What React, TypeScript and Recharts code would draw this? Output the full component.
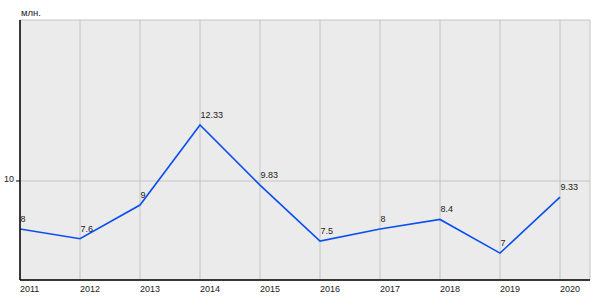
import { LineChart, Line, XAxis, YAxis, CartesianGrid, LabelList } from 'recharts';

const years = [2011, 2012, 2013, 2014, 2015, 2016, 2017, 2018, 2019, 2020];
const values = [8, 7.6, 9, 12.33, 9.83, 7.5, 8, 8.4, 7, 9.33];
const yTicks = [10];
const unitLabel = 'млн.';

const data = years.map((year, i) => ({ year, value: values[i] }));

const FONT = '"Liberation Sans", Arial, sans-serif';
const TEXT = '#222';
const FS = 9;

function YearTick({ x, y, payload }: any) {
  return (
    <text x={x} y={y + 4} textAnchor="start" fontSize={FS} fill={TEXT} fontFamily={FONT}>
      {payload.value}
    </text>
  );
}

function ValueTick({ x, y, payload }: any) {
  return (
    <text x={x + 1} y={y + 1} textAnchor="end" fontSize={FS} fill={TEXT} fontFamily={FONT}>
      {payload.value}
    </text>
  );
}

function PointLabel({ x, y, value }: any) {
  return (
    <text x={x + 0.5} y={y - 7} textAnchor="start" fontSize={FS} fill={TEXT} fontFamily={FONT}>
      {value}
    </text>
  );
}

export default function App() {
  return (
    <div style={{ position: 'absolute', left: 0, top: 0, width: 600, height: 300, background: '#fff' }}>
      <LineChart width={600} height={300} data={data} margin={{ top: 20, right: 10, left: 0, bottom: 0 }}>
        <CartesianGrid fill="#ebebeb" stroke="#c4c4c4" strokeWidth={1} />
        <XAxis
          dataKey="year"
          type="number"
          domain={[2011, 2020.5]}
          ticks={years}
          axisLine={{ stroke: '#000', strokeWidth: 1.5 }}
          tickLine={false}
          tick={<YearTick />}
          height={20}
          interval={0}
        />
        <YAxis
          type="number"
          domain={[5.88, 16.7]}
          ticks={yTicks}
          width={20}
          axisLine={{ stroke: '#000', strokeWidth: 1.5 }}
          tickLine={{ stroke: '#000' }}
          tickSize={4}
          tickMargin={3}
          tick={<ValueTick />}
          allowDataOverflow
        />
        <Line
          type="linear"
          dataKey="value"
          stroke="#0a4ff0"
          strokeWidth={1.6}
          dot={false}
          activeDot={false}
          isAnimationActive={false}
        >
          <LabelList dataKey="value" content={<PointLabel />} />
        </Line>
        <text x={21} y={16} fontSize={FS + 0.5} fill={TEXT} fontFamily={FONT}>
          {unitLabel}
        </text>
      </LineChart>
    </div>
  );
}
